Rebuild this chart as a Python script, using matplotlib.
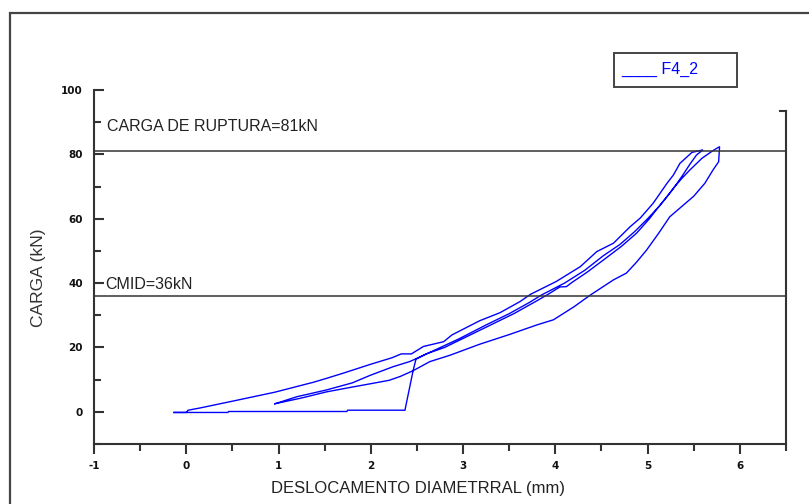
import matplotlib
matplotlib.use("Agg")
import matplotlib.pyplot as plt
from matplotlib.lines import Line2D
from matplotlib.patches import Rectangle
import numpy as np

plt.rcParams['font.family'] = ['Liberation Sans', 'DejaVu Sans']
plt.rcParams['axes.unicode_minus'] = False

# ---- data: load (kN) vs diametral displacement (mm), ensaio F4_2 ----
# first reload from preload up to the first peak
carga1_x = [0.96, 1.20, 1.52, 1.80, 1.99, 2.24, 2.42, 2.50, 2.68, 2.95, 3.25, 3.50,
            3.72, 3.85, 4.10, 4.32, 4.52, 4.70, 4.86, 5.00, 5.13, 5.27, 5.38, 5.46,
            5.53, 5.60]
carga1_y = [2.5, 4.7, 6.8, 9.0, 11.3, 14.0, 15.6, 16.6, 19.0, 22.6, 27.0, 30.5,
            34.0, 36.3, 40.0, 44.0, 48.5, 52.0, 56.0, 60.0, 64.0, 69.0, 73.5, 77.0,
            79.8, 81.4]

# unloading from the first peak down to zero
descarga1_x = [5.60, 5.48, 5.35, 5.28, 5.21, 5.06, 4.92, 4.81, 4.63, 4.45, 4.27,
               4.01, 3.73, 3.62, 3.40, 3.18, 2.88, 2.79, 2.57, 2.44, 2.33, 2.23,
               1.99, 1.70, 1.52, 1.38, 0.96, 0.50, 0.15, 0.02]
descarga1_y = [81.4, 80.6, 77.2, 73.6, 71.0, 64.8, 60.2, 57.5, 52.4, 49.8, 45.1,
               40.5, 36.5, 34.3, 30.8, 28.3, 23.9, 21.8, 20.3, 18.0, 18.0, 16.8,
               14.7, 12.0, 10.4, 9.2, 6.1, 3.3, 1.2, 0.5]

# seating at zero load
assentamento_x = [0.00, -0.14, 0.45, 0.46, 1.74, 1.75, 2.37]
assentamento_y = [-0.2, -0.2, -0.2, 0.1, 0.1, 0.5, 0.5]

# second loading up to rupture
carga2_x = [2.46, 2.49, 2.60, 2.80, 3.05, 3.30, 3.55, 3.80, 3.92, 4.05, 4.12,
            4.18, 4.35, 4.55, 4.72, 4.88, 5.02, 5.10, 5.20, 5.28, 5.37, 5.46,
            5.59, 5.70, 5.78]
carga2_y = [13.0, 16.4, 18.0, 20.0, 23.5, 27.0, 30.5, 34.5, 36.5, 38.8, 38.9,
            40.2, 43.5, 47.8, 51.5, 55.5, 60.0, 63.0, 66.5, 69.5, 72.5, 75.2,
            78.8, 81.0, 82.4]

# post-rupture unloading
descarga2_x = [5.77, 5.71, 5.62, 5.50, 5.37, 5.24, 5.12, 4.99, 4.88, 4.77, 4.63,
               4.38, 4.20, 3.98, 3.80, 3.50, 3.18, 2.86, 2.64, 2.46, 2.32, 2.20,
               2.05, 1.80, 1.52, 1.25, 0.96]
descarga2_y = [77.7, 75.2, 71.0, 67.0, 63.8, 60.6, 55.5, 50.3, 46.5, 43.1, 41.0,
               36.3, 32.6, 28.6, 27.0, 24.0, 21.0, 17.6, 15.6, 12.8, 11.0, 9.8,
               9.0, 7.7, 6.2, 4.3, 2.5]

carga_ruptura = 81
cmid = 36

x_ticks = [-1, 0, 1, 2, 3, 4, 5, 6]
x_labels = ['-1', '0', '1', '2', '3', '4', '5', '6']
y_ticks = [0, 20, 40, 60, 80, 100]
y_labels = ['0', '20', '40', '60', '80', '100']

serie_x = (carga1_x + descarga1_x + assentamento_x + carga2_x + descarga2_x)
serie_y = (carga1_y + descarga1_y + assentamento_y + carga2_y + descarga2_y)

# ---- figure ----
W, H = 809, 504
fig = plt.figure(figsize=(W / 100, H / 100), dpi=100)
fig.patch.set_facecolor('white')

# outer frame
fig.patches.append(Rectangle((10 / W, -0.1), 1.2, 1 - 13 / H + 0.1,
                             transform=fig.transFigure, fill=False,
                             edgecolor='#444444', linewidth=1.6))

ax = fig.add_axes([94 / W, 1 - 444 / H, (786 - 94) / W, (444 - 90) / H])
ax.set_xlim(-1, 6.5)
ax.set_ylim(-10, 100)

ax.plot(serie_x, serie_y, color='#0000ff', linewidth=1.0, solid_joinstyle='miter')

ax.axhline(carga_ruptura, color='#333333', linewidth=1.1)
ax.axhline(cmid, color='#333333', linewidth=1.1)

ax.text(-0.862, 88.6, 'CARGA DE RUPTURA=%dkN' % carga_ruptura, fontsize=11.5,
        ha='left', va='center', color='#222222')
ax.text(-0.88, 39.6, 'CMID=%dkN' % cmid, fontsize=11.5,
        ha='left', va='center', color='#222222')

# spines
for side in ('left', 'bottom', 'right'):
    ax.spines[side].set_color('#333333')
    ax.spines[side].set_linewidth(1.5)
ax.spines['top'].set_visible(False)
ax.spines['right'].set_bounds(-10, 93.6)
ax.add_line(Line2D([6.5 - 0.06, 6.5], [93.6, 93.6], color='#333333',
                   linewidth=1.5, clip_on=False))

ax.set_xticks(x_ticks)
ax.set_xticklabels(x_labels)
ax.set_xticks(np.arange(-1, 6.51, 0.5), minor=True)
ax.set_yticks(y_ticks)
ax.set_yticklabels(y_labels)
ax.set_yticks(np.arange(-10, 100.1, 10), minor=True)

ax.tick_params(axis='x', which='major', direction='out', length=7, width=1.5,
               color='#333333', pad=5.5)
ax.tick_params(axis='x', which='minor', direction='out', length=5, width=1.5,
               color='#333333')
ax.tick_params(axis='y', which='major', direction='in', length=7, width=1.5,
               color='#333333', pad=8)
ax.tick_params(axis='y', which='minor', direction='in', length=5, width=1.5,
               color='#333333')
for lbl in ax.get_xticklabels() + ax.get_yticklabels():
    lbl.set_family(['DejaVu Sans'])
    lbl.set_fontweight('bold')
    lbl.set_fontsize(7.5)
    lbl.set_color('#111111')

ax.set_xlabel('DESLOCAMENTO DIAMETRRAL (mm)', fontsize=12, color='#222222')
ax.xaxis.set_label_coords((418 - 94) / 692, (444 - 489) / 354)
ax.xaxis.label.set_va('center')
ax.set_ylabel('CARGA (kN)', fontsize=12.5, color='#333333')
ax.yaxis.set_label_coords((38 - 94) / 692, (444 - 278) / 354)
ax.yaxis.label.set_va('center')

# legend box
fig.patches.append(Rectangle((614 / W, 1 - 87 / H), 123 / W, 34 / H,
                             transform=fig.transFigure, fill=False,
                             edgecolor='#444444', linewidth=1.4))
fig.text(621 / W, 1 - 69 / H, '____ F4_2', color='#0000ff', fontsize=11.5,
         ha='left', va='center')

fig.savefig('out.png', dpi=100)
